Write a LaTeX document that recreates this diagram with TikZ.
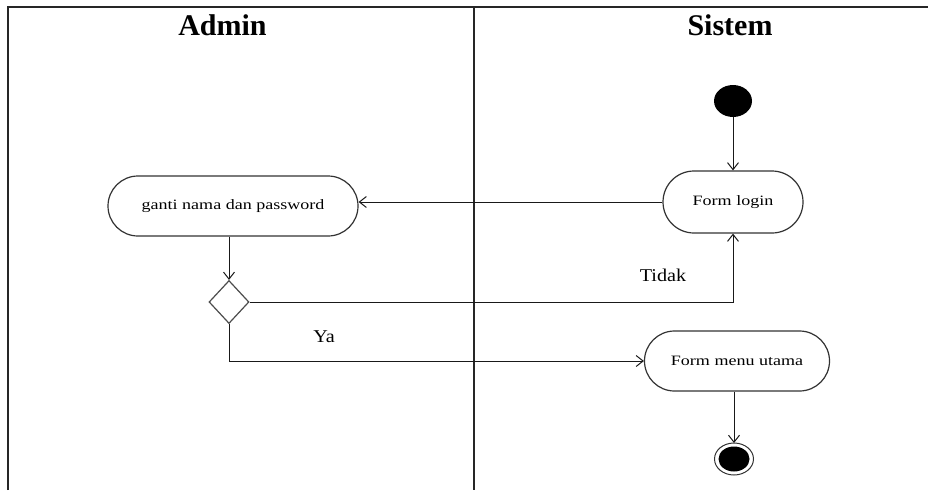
\documentclass[tikz,border=0pt]{standalone}
\usepackage{fontspec}
\setmainfont{Liberation Serif}
\newfontfamily\bodyfont[FakeStretch=1.26]{Liberation Serif}
\newfontfamily\labfont[FakeStretch=1.12]{Liberation Serif}
\usetikzlibrary{arrows.meta,shapes.geometric,shapes.misc}
\tikzset{
  lane/.style={line width=1.6pt, draw=black!85},
  actbox/.style={rounded rectangle, draw=black!80, line width=1.2pt, fill=white,
    font=\bodyfont\fontsize{14.3}{16}\selectfont, inner sep=0pt},
  flow/.style={draw=black!90, line width=1pt, -{Straight Barb[length=7pt,width=11pt,line width=1pt]}},
  plainflow/.style={draw=black!90, line width=1pt},
  header/.style={font=\bfseries\fontsize{30}{32}\selectfont, anchor=base},
  guard/.style={font=\labfont\fontsize{18}{20}\selectfont},
  decision/.style={diamond, draw=black!70, line width=1.2pt, minimum width=40pt,
    minimum height=43pt, inner sep=0pt, aspect=0.93, fill=white},
}
\begin{document}
\begin{tikzpicture}[x=1pt,y=-1pt]
\useasboundingbox (0,0) rectangle (928,490);
% swimlanes
\draw[lane] (8,490) -- (8,7) -- (928,7);
\draw[lane] (474,7) -- (474,490);
\node[header] (hadmin) at (222.5,35) {Admin};
\node[header] (hsistem) at (730,35) {Sistem};
% nodes
\path[fill=black] (733,101) ellipse [x radius=19, y radius=16];
\coordinate (start) at (733,117);
\node[actbox, minimum width=140pt, minimum height=62pt] (login) at (733,202) {Form login};
\node[actbox, minimum width=250pt, minimum height=60pt] (ganti) at (233,206) {ganti nama dan password};
\node[decision] (dec) at (229,302) {};
\node[actbox, minimum width=185pt, minimum height=60pt] (menu) at (737,361) {Form menu utama};
\draw[black!80, line width=1pt] (734,459) ellipse [x radius=19.5, y radius=16];
\path[fill=black] (734,459) ellipse [x radius=15.5, y radius=12.5];
\coordinate (endn) at (734,443);
% connectors
\draw[flow] (start) -- (login.north);
\draw[flow] (login.west) -- (login.west -| ganti.east);
\draw[flow] (dec.north |- ganti.south) -- (dec.north);
\draw[flow] (dec.east) -| (login.south);
\draw[flow] (dec.south) |- (menu.west);
\draw[flow] (endn |- menu.south) -- (endn);
% guards
\node[guard] (tidak) at (663,275) {Tidak};
\node[guard] (ya) at (324,337) {Ya};
\end{tikzpicture}
\end{document}
